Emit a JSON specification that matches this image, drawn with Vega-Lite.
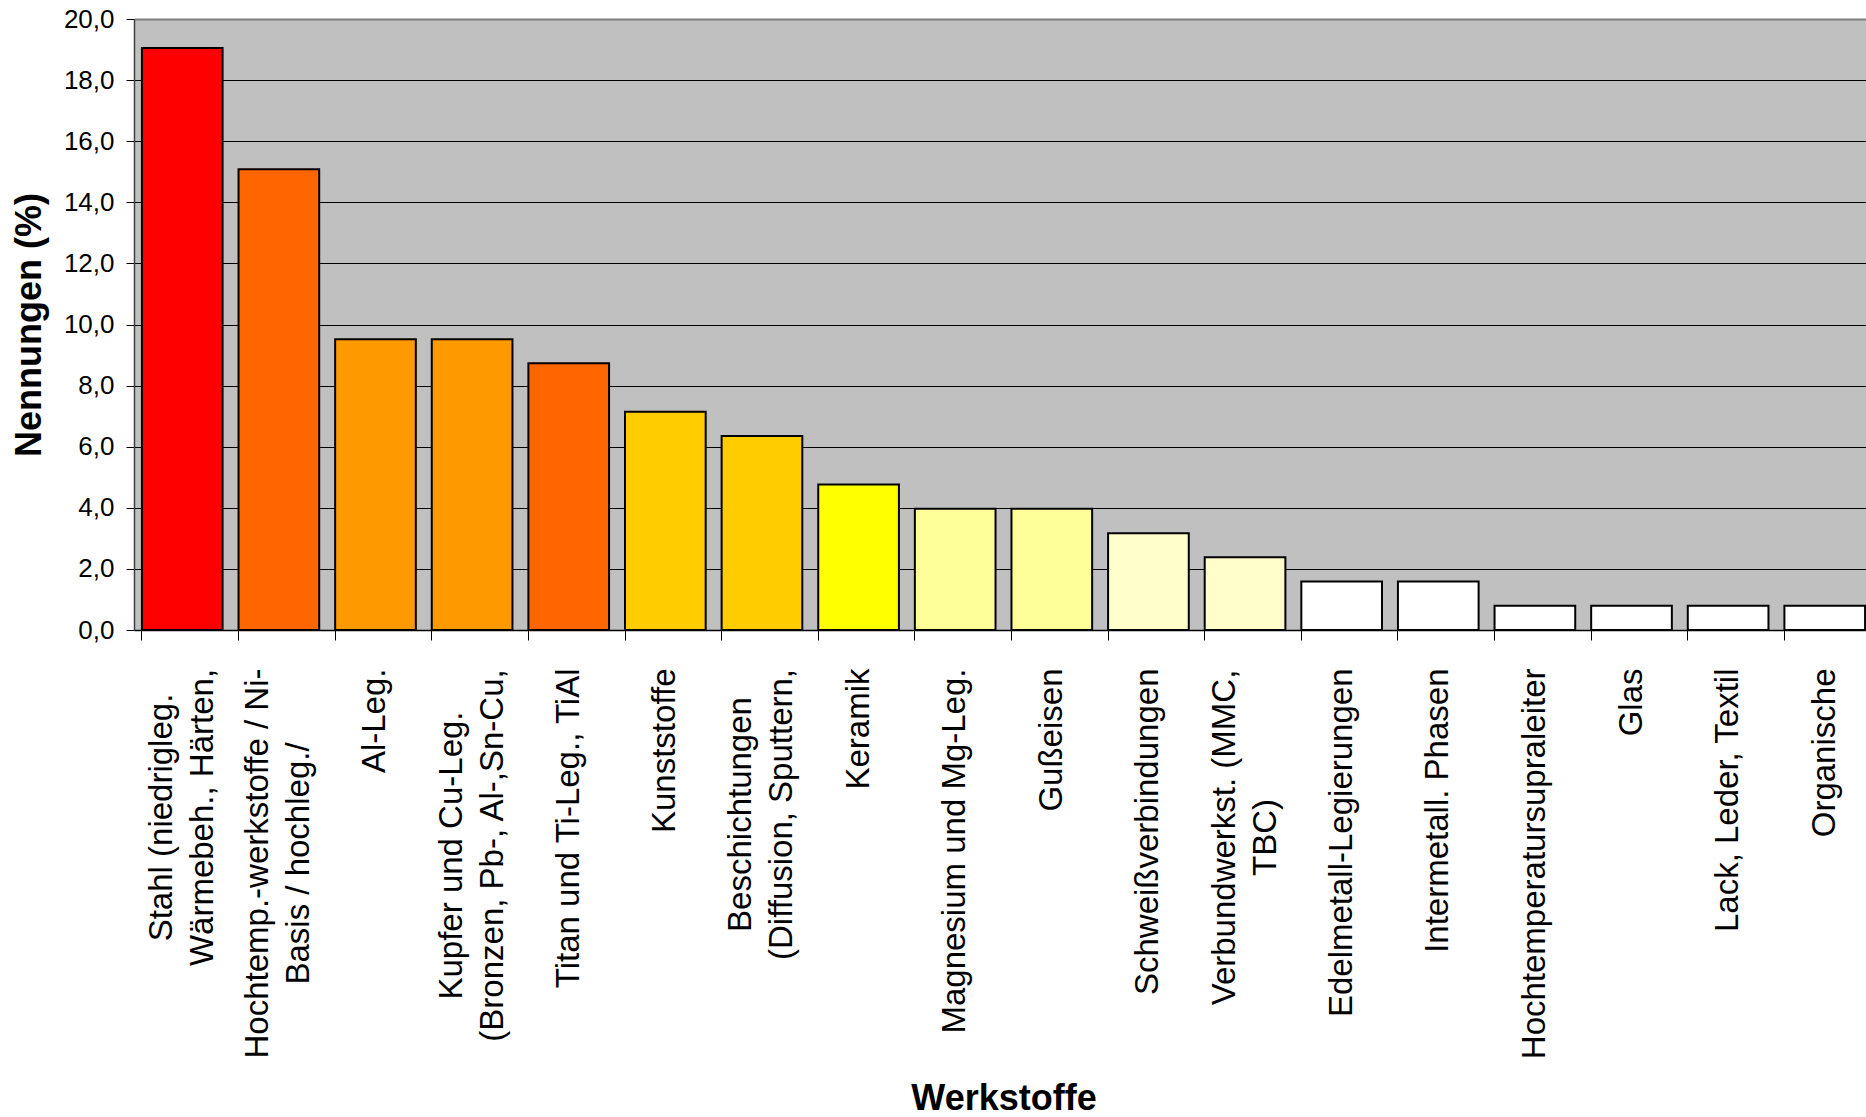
{
  "$schema": "https://vega.github.io/schema/vega-lite/v6.json",
  "width": 1732,
  "height": 611,
  "autosize": "none",
  "padding": {"left": 134, "top": 19, "right": 0, "bottom": 487},
  "background": "white",
  "config": {
    "view": {"fill": "#C0C0C0", "stroke": null},
    "font": "Liberation Sans"
  },
  "data": {
    "values": [
      {"Werkstoff": "Stahl (niedrigleg.\nWärmebeh., Härten,", "Nennungen": 19.05},
      {"Werkstoff": "Hochtemp.-werkstoffe / Ni-\nBasis / hochleg./", "Nennungen": 15.08},
      {"Werkstoff": "Al-Leg.", "Nennungen": 9.52},
      {"Werkstoff": "Kupfer und Cu-Leg.\n(Bronzen, Pb-, Al-,Sn-Cu,", "Nennungen": 9.52},
      {"Werkstoff": "Titan und Ti-Leg., TiAl", "Nennungen": 8.73},
      {"Werkstoff": "Kunststoffe", "Nennungen": 7.14},
      {"Werkstoff": "Beschichtungen\n(Diffusion, Sputtern,", "Nennungen": 6.35},
      {"Werkstoff": "Keramik", "Nennungen": 4.76},
      {"Werkstoff": "Magnesium und Mg-Leg.", "Nennungen": 3.97},
      {"Werkstoff": "Gußeisen", "Nennungen": 3.97},
      {"Werkstoff": "Schweißverbindungen", "Nennungen": 3.17},
      {"Werkstoff": "Verbundwerkst. (MMC,\nTBC)", "Nennungen": 2.38},
      {"Werkstoff": "Edelmetall-Legierungen", "Nennungen": 1.59},
      {"Werkstoff": "Intermetall. Phasen", "Nennungen": 1.59},
      {"Werkstoff": "Hochtemperatursupraleiter", "Nennungen": 0.79},
      {"Werkstoff": "Glas", "Nennungen": 0.79},
      {"Werkstoff": "Lack, Leder, Textil", "Nennungen": 0.79},
      {"Werkstoff": "Organische", "Nennungen": 0.79}
    ]
  },
  "mark": {"type": "bar", "stroke": "black", "strokeWidth": 2},
  "encoding": {
    "x": {
      "field": "Werkstoff",
      "type": "nominal",
      "sort": null,
      "scale": {"paddingInner": 0.165, "paddingOuter": 0.082, "range": [0, 1739]},
      "axis": {
        "title": "Werkstoffe",
        "labelAngle": -90,
        "labelFontSize": 33,
        "labelLineHeight": 41,
        "labelLimit": 0,
        "labelOverlap": false,
        "labelColor": "black",
        "labelExpr": "split(datum.label, '\\n')",
        "labelAlign": {"condition": {"test": "indexof(datum.value, '\\n') >= 0", "value": "center"}, "value": "right"},
        "labelOffset": {"condition": {"test": "indexof(datum.value, '\\n') >= 0", "value": -20.5}, "value": 0},
        "labelPadding": {
          "condition": [
            {"test": "indexof(datum.value, 'Stahl') == 0", "value": 177},
            {"test": "indexof(datum.value, 'Hochtemp.-') == 0", "value": 223},
            {"test": "indexof(datum.value, 'Kupfer') == 0", "value": 215},
            {"test": "indexof(datum.value, 'Beschicht') == 0", "value": 174},
            {"test": "indexof(datum.value, 'Verbund') == 0", "value": 197}
          ],
          "value": 28
        },
        "bandPosition": 0,
        "tickSize": 10,
        "tickColor": "black",
        "domainColor": "black",
        "domainWidth": 1.5,
        "titleFontSize": 36,
        "titleFontWeight": "bold",
        "titleColor": "black",
        "titleBaseline": "alphabetic",
        "titleY": 479
      }
    },
    "y": {
      "field": "Nennungen",
      "type": "quantitative",
      "scale": {"domain": [0, 20], "nice": false},
      "axis": {
        "title": "Nennungen (%)",
        "values": [0, 2, 4, 6, 8, 10, 12, 14, 16, 18, 20],
        "labelExpr": "replace(format(datum.value, '.1f'), '.', ',')",
        "labelFontSize": 26,
        "labelColor": "black",
        "labelPadding": 12,
        "tickSize": 8,
        "tickColor": "black",
        "domainColor": "#404040",
        "domainWidth": 1.5,
        "grid": true,
        "gridColor": {"condition": {"test": "datum.value == 20", "value": "#808080"}, "value": "black"},
        "gridWidth": {"condition": {"test": "datum.value == 20", "value": 2}, "value": 1},
        "titleFontSize": 36,
        "titleFontWeight": "bold",
        "titleColor": "black",
        "titlePadding": 15
      }
    },
    "color": {
      "field": "Werkstoff",
      "type": "nominal",
      "legend": null,
      "scale": {
        "domain": [
          "Stahl (niedrigleg.\nWärmebeh., Härten,",
          "Hochtemp.-werkstoffe / Ni-\nBasis / hochleg./",
          "Al-Leg.",
          "Kupfer und Cu-Leg.\n(Bronzen, Pb-, Al-,Sn-Cu,",
          "Titan und Ti-Leg., TiAl",
          "Kunststoffe",
          "Beschichtungen\n(Diffusion, Sputtern,",
          "Keramik",
          "Magnesium und Mg-Leg.",
          "Gußeisen",
          "Schweißverbindungen",
          "Verbundwerkst. (MMC,\nTBC)",
          "Edelmetall-Legierungen",
          "Intermetall. Phasen",
          "Hochtemperatursupraleiter",
          "Glas",
          "Lack, Leder, Textil",
          "Organische"
        ],
        "range": [
          "#FF0000", "#FF6600", "#FF9900", "#FF9900", "#FF6600", "#FFCC00",
          "#FFCC00", "#FFFF00", "#FFFF99", "#FFFF99", "#FFFFCC", "#FFFFCC",
          "#FFFFFF", "#FFFFFF", "#FFFFFF", "#FFFFFF", "#FFFFFF", "#FFFFFF"
        ]
      }
    }
  }
}
